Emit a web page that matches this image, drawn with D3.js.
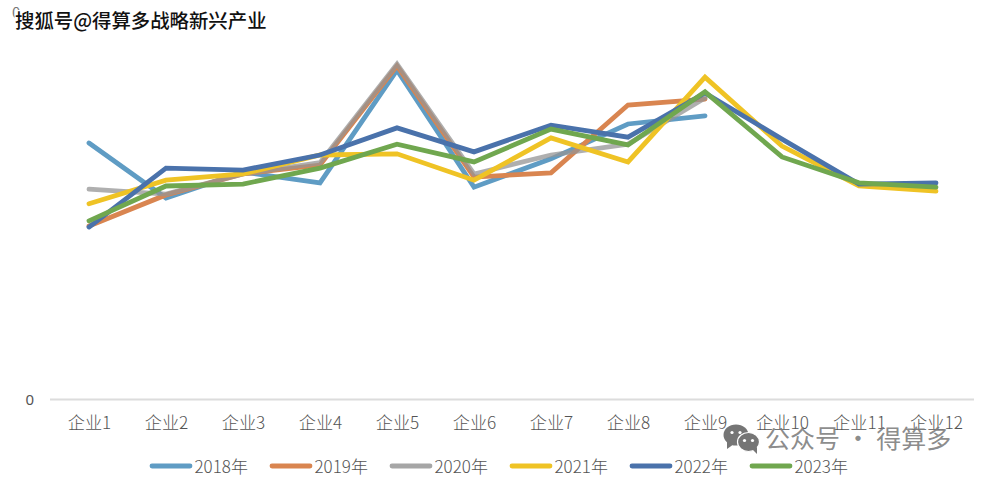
<!DOCTYPE html>
<html>
<head>
<meta charset="utf-8">
<script src="https://cdn.jsdelivr.net/npm/d3@7/dist/d3.min.js"></script>
<style>
html,body{margin:0;padding:0;background:#fff;}
svg{display:block;font-family:"Noto Sans CJK SC","Noto Sans",sans-serif;}
</style>
</head>
<body>
<svg id="chart" width="982" height="477"></svg>
<script>
const categories = ["企业1","企业2","企业3","企业4","企业5","企业6","企业7","企业8","企业9","企业10","企业11","企业12"];
const years = ["2018年","2019年","2020年","2021年","2022年","2023年"];
const colors = ["#5f9cc4","#d98550","#a6a6a6","#efc325","#4a72ab","#70a74f"];

const v2018 = [66.2,52.0,58.7,55.9,85.0,54.8,62.1,71.1,73.2];
const v2019 = [44.8,52.8,58.2,60.5,86.1,57.4,58.5,76.0,77.5];
const v2020 = [54.3,53.0,58.2,61.1,86.6,58.2,63.1,65.9,77.8];
const v2021 = [50.5,56.6,58.2,63.1,63.4,56.6,67.5,61.3,83.2,65.4,55.1,53.8];
const v2022 = [44.5,59.7,59.2,63.1,70.1,63.9,70.8,67.7,79.1,67.2,55.6,55.9];
const v2023 = [46.1,55.1,55.6,59.7,65.9,61.3,69.8,65.7,79.4,62.6,55.9,54.8];
const allSeries = [v2018,v2019,v2020,v2021,v2022,v2023];

const yTicks = [0];
const topTickLabel = "0";
const watermark = "搜狐号@得算多战略新兴产业";
const account = "公众号 · 得算多";

const svg = d3.select("#chart");
const textColor = "#545454";

const x = d3.scalePoint().domain(categories).range([89, 936]);
const y = d3.scaleLinear().domain([0, 100]).range([399.5, 12]);

// baseline and the single visible value tick
svg.append("line")
  .attr("x1", 50).attr("x2", 974)
  .attr("y1", y(0)).attr("y2", y(0))
  .attr("stroke", "#dcdcdc").attr("stroke-width", 2);

const xAxis = svg.append("g")
  .attr("transform", `translate(0,${y(0)})`)
  .call(d3.axisBottom(x).tickSize(0).tickPadding(17));
xAxis.select(".domain").remove();
xAxis.selectAll("text")
  .attr("fill", textColor)
  .style("font-size", "17.2px")
  .style("font-family", '"Noto Sans CJK SC",sans-serif')
  .style("font-weight", 300);

const yAxis = svg.append("g")
  .attr("transform", "translate(34,0)")
  .call(d3.axisLeft(y).tickValues(yTicks).tickSize(0).tickPadding(0).tickFormat(d3.format("d")));
yAxis.select(".domain").remove();
yAxis.selectAll("text")
  .attr("fill", textColor)
  .style("font-size", "15px")
  .style("font-family", '"Noto Sans",sans-serif');

svg.append("text")
  .attr("x", 12).attr("y", 18)
  .attr("fill", "#777")
  .style("font-size", "15px")
  .text(topTickLabel);

// one polyline per year; the earlier years stop at 企业9
const line = d3.line()
  .x((d, i) => x(categories[i]))
  .y(d => y(d))
  .curve(d3.curveLinear);

svg.append("g").selectAll("path")
  .data(allSeries)
  .join("path")
  .attr("d", d => line(d))
  .attr("fill", "none")
  .attr("stroke", (d, i) => i === 2 ? "#949494" : colors[i])
  .attr("stroke-width", 4.8)
  .attr("stroke-linejoin", "miter")
  .attr("stroke-linecap", "round")
  .attr("stroke-opacity", (d, i) => i === 2 ? 0.75 : 1);

// legend along the bottom
const legendX = d3.scaleLinear().domain([0, 5]).range([150, 750]);
const legend = svg.append("g").selectAll("g")
  .data(years)
  .join("g")
  .attr("transform", (d, i) => `translate(${legendX(i)},466)`);
legend.append("line")
  .attr("x1", 2).attr("x2", 40)
  .attr("stroke", (d, i) => colors[i])
  .attr("stroke-width", 4.8)
  .attr("stroke-linecap", "round");
legend.append("text")
  .attr("x", 44.5).attr("y", -1)
  .attr("dominant-baseline", "central")
  .attr("fill", textColor)
  .style("font-size", "17px")
  .style("font-weight", 300)
  .text(d => d);

// source line, top left, outlined so it reads over the chart
svg.append("text")
  .attr("x", 15).attr("y", 28)
  .attr("fill", "#111")
  .attr("stroke", "#fff")
  .attr("stroke-width", 2.5)
  .attr("paint-order", "stroke")
  .style("font-size", "19.4px")
  .style("font-weight", 500)
  .text(watermark);

// account mark, bottom right: two overlapping speech bubbles and the name
const mark = svg.append("g").attr("transform", "translate(724,425)").attr("fill", "#757575");
mark.append("ellipse").attr("cx", 12).attr("cy", 10).attr("rx", 12.5).attr("ry", 10.5);
mark.append("path").attr("d", "M3,16 L3,24 L10,19 Z");
mark.append("ellipse").attr("cx", 24.5).attr("cy", 17).attr("rx", 11).attr("ry", 9.5).attr("stroke", "#fff").attr("stroke-width", 1.2);
mark.append("path").attr("d", "M28,24 L33,29 L33,22 Z");
[[8,7.5],[16,7.5]].forEach(p => mark.append("circle").attr("cx", p[0]).attr("cy", p[1]).attr("r", 1.6).attr("fill", "#fff"));
[[20.5,15.5],[28.5,15.5]].forEach(p => mark.append("circle").attr("cx", p[0]).attr("cy", p[1]).attr("r", 1.6).attr("fill", "#fff"));

svg.append("text")
  .attr("x", 765).attr("y", 448)
  .attr("fill", "#7d7d7d")
  .attr("fill-opacity", 0.9)
  .style("font-size", "25px")
  .style("font-weight", 400)
  .text(account);
</script>
</body>
</html>
